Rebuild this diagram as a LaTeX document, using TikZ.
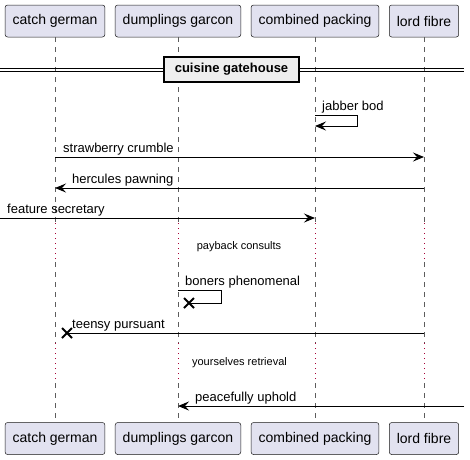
\documentclass[tikz,border=0pt]{standalone}
\usepackage{fontspec}
\setmainfont{Liberation Sans}
\usetikzlibrary{arrows.meta}
\definecolor{partfill}{HTML}{E2E2F0}
\definecolor{partline}{HTML}{181818}
\definecolor{delayred}{HTML}{A80036}
\definecolor{divfill}{HTML}{EEEEEE}
\begin{document}
\begin{tikzpicture}[x=1pt,y=-1pt,
	part/.style={draw=partline,line width=0.5pt,fill=partfill,rounded corners=2.5pt,minimum height=32pt,inner xsep=7.5pt,font=\fontsize{14}{16}\selectfont},
	life/.style={draw=partline!70,line width=0.6pt,dash pattern=on 5pt off 5pt},
	delay/.style={draw=delayred,line width=1pt,dash pattern=on 1pt off 4pt},
	msg/.style={line width=1pt,-{Stealth[length=11pt,width=9pt,inset=4pt]}},
	lbl/.style={anchor=base west,inner sep=0pt,font=\fontsize{13}{15}\selectfont},
	note/.style={inner sep=0pt,font=\fontsize{11}{13}\selectfont},
	cross/.style={line width=2pt}]
				\useasboundingbox (0,0) rectangle (470,459);
				% Message and delay levels
				\def\yjab{115}
				\def\ystraw{157}
				\def\yherc{188}
				\def\yfeat{218}
				\def\ybon{290}
				\def\yteen{333}
				\def\ypeace{406}
				
				% Participants, top and bottom
				\foreach \n/\x/\t in {cg/55/catch german, dg/178/dumplings garcon, cp/315/combined packing, lf/424/lord fibre} {
					\node[part] (\n-t) at (\x,21) {\t};
					\node[part] (\n-b) at (\x,438.5) {\t};
				}
				
				% Lifelines, broken by the two delays
				\foreach \n in {cg,dg,cp,lf} {
					\draw[life] (\n-t.south) -- (\n-t.south |- 0,223);
					\draw[delay] (\n-t.south |- 0,223) -- (\n-t.south |- 0,262);
					\draw[life] (\n-t.south |- 0,262) -- (\n-t.south |- 0,343);
					\draw[delay] (\n-t.south |- 0,343) -- (\n-t.south |- 0,383);
					\draw[life] (\n-t.south |- 0,383) -- (\n-b.north);
				}
				
				% Divider
				\draw[line width=1pt] (0,68.5) -- (464,68.5) (0,71.5) -- (464,71.5);
				\node[draw=black,line width=2pt,fill=divfill,font=\bfseries\fontsize{13}{15}\selectfont,minimum width=135pt,minimum height=25pt,inner sep=0pt] (div) at (231.5,69.5) {cuisine gatehouse};
				
				% Messages
				\draw[msg] (cp-t |- 0,\yjab) -- (357,\yjab) -- (357,126) -- (cp-t |- 0,126);
				\node[lbl] (jab) at (322,\yjab-5) {jabber bod};
				\draw[msg] (cg-t |- 0,\ystraw) -- (lf-t |- 0,\ystraw);
				\node[lbl] (straw) at (63,\ystraw-4.5) {strawberry crumble};
				\draw[msg] (lf-t |- 0,\yherc) -- (cg-t |- 0,\yherc);
				\node[lbl] (herc) at (72,\yherc-4.5) {hercules pawning};
				\coordinate (left) at (0,\yfeat);
				\draw[msg] (left) -- (cp-t |- 0,\yfeat);
				\node[lbl] (feat) at (7,\yfeat-4.5) {feature secretary};
				
				% Delays
				\node[note] (pay) at (239,247) {payback consults};
				\node[note] (your) at (239.5,363) {yourselves retrieval};
				
				% Destroyed ends
				\coordinate (xbon) at (189,303);
				\coordinate (xteen) at (67,\yteen);
				\draw[line width=1pt] (dg-t |- 0,\ybon) -- (221,\ybon) -- (221,303) -- (xbon);
				\draw[cross] ([shift={(-5,-5)}]xbon) -- ([shift={(5,5)}]xbon) ([shift={(-5,5)}]xbon) -- ([shift={(5,-5)}]xbon);
				\node[lbl] (bon) at (185,\ybon-5) {boners phenomenal};
				\draw[line width=1pt] (lf-t |- 0,\yteen) -- (xteen);
				\draw[cross] ([shift={(-5,-5)}]xteen) -- ([shift={(5,5)}]xteen) ([shift={(-5,5)}]xteen) -- ([shift={(5,-5)}]xteen);
				\node[lbl] (teen) at (72,\yteen-4.5) {teensy pursuant};
				
				% Found message
				\coordinate (right) at (464,\ypeace);
				\draw[msg] (right) -- (dg-t |- 0,\ypeace);
				\node[lbl] (peace) at (195,\ypeace-4.5) {peacefully uphold};
			\end{tikzpicture}
\end{document}
